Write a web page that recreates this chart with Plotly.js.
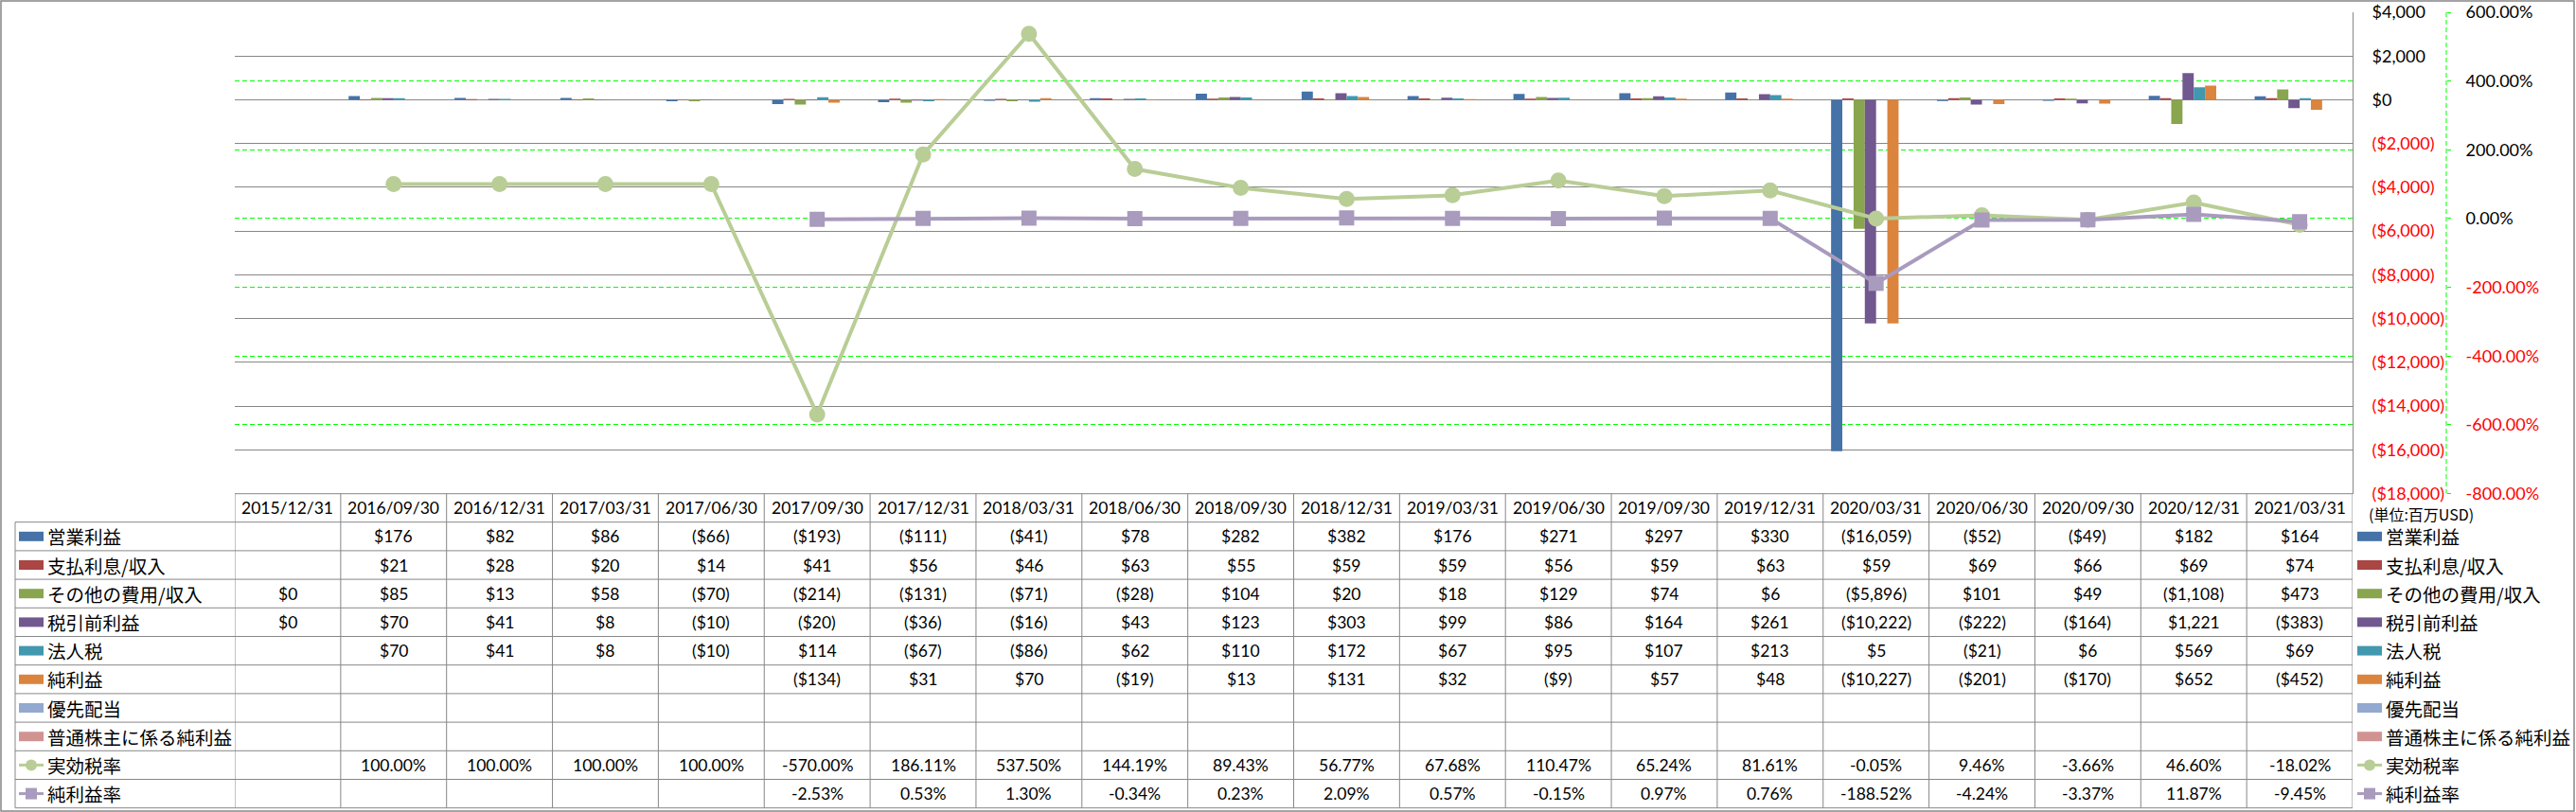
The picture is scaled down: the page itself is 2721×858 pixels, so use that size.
<!DOCTYPE html>
<html>
<head>
<meta charset="utf-8">
<script src="https://cdn.plot.ly/plotly-3.0.1.min.js"></script>
<style>html,body{margin:0;padding:0;background:#fff;}#chart{width:2721px;height:858px;}</style>
</head>
<body>
<div id="chart"></div>
<script>
// ---------------- DATA ----------------
const categories = ["2015/12/31","2016/09/30","2016/12/31","2017/03/31","2017/06/30","2017/09/30","2017/12/31","2018/03/31","2018/06/30","2018/09/30","2018/12/31","2019/03/31","2019/06/30","2019/09/30","2019/12/31","2020/03/31","2020/06/30","2020/09/30","2020/12/31","2021/03/31"];
const operatingIncome = [null,176,82,86,-66,-193,-111,-41,78,282,382,176,271,297,330,-16059,-52,-49,182,164];
const interestExpense = [null,21,28,20,14,41,56,46,63,55,59,59,56,59,63,59,69,66,69,74];
const otherExpense = [0,85,13,58,-70,-214,-131,-71,-28,104,20,18,129,74,6,-5896,101,49,-1108,473];
const preTaxIncome = [0,70,41,8,-10,-20,-36,-16,43,123,303,99,86,164,261,-10222,-222,-164,1221,-383];
const incomeTax = [null,70,41,8,-10,114,-67,-86,62,110,172,67,95,107,213,5,-21,6,569,69];
const netIncome = [null,null,null,null,null,-134,31,70,-19,13,131,32,-9,57,48,-10227,-201,-170,652,-452];
const preferredDividends = [null,null,null,null,null,null,null,null,null,null,null,null,null,null,null,null,null,null,null,null];
const netIncomeCommon = [null,null,null,null,null,null,null,null,null,null,null,null,null,null,null,null,null,null,null,null];
const effectiveTaxRate = [null,100.00,100.00,100.00,100.00,-570.00,186.11,537.50,144.19,89.43,56.77,67.68,110.47,65.24,81.61,-0.05,9.46,-3.66,46.60,-18.02];
const netMargin = [null,null,null,null,null,-2.53,0.53,1.30,-0.34,0.23,2.09,0.57,-0.15,0.97,0.76,-188.52,-4.24,-3.37,11.87,-9.45];

const seriesNames = ["営業利益","支払利息/収入","その他の費用/収入","税引前利益","法人税","純利益","優先配当","普通株主に係る純利益","実効税率","純利益率"];
const primaryTicks = [4000,2000,0,-2000,-4000,-6000,-8000,-10000,-12000,-14000,-16000,-18000];
const secondaryTicks = [600,400,200,0,-200,-400,-600,-800];
const unitLabel = "(単位:百万USD)";

// ---------------- STYLE ----------------
const W = 2721, H = 858;
const barColors = ["#4572A7","#AA4643","#89A54E","#71588F","#4198AF","#DB843D","#93A9CF","#D19392"];
const taxColor = "#B9CD96", marginColor = "#A99BBD";
const gridGray = "#878787";
const green = "#00FF00";
const latin = "Lato, 'Noto Sans CJK JP', sans-serif";
const cjk = "'Noto Sans CJK JP', Lato, sans-serif";

const plotL = 248, plotR = 2485, plotT = 13, plotB = 521.5;
const secAxisX = 2584;
const tableTop = 521.7, headerB = 551.7, rowH = 30.2;
const px = x => x / W;
const py = y => 1 - y / H;

const barSeries = [operatingIncome, interestExpense, otherExpense, preTaxIncome, incomeTax, netIncome, preferredDividends, netIncomeCommon];
const nSlots = barSeries.length;
const groupW = 0.85, slotW = groupW / nSlots;

const traces = [];
barSeries.forEach((s, i) => {
  traces.push({
    type: "bar", name: seriesNames[i], x: categories, y: s,
    width: slotW, offset: -groupW / 2 + i * slotW,
    marker: {color: barColors[i], line: {width: 0}},
    yaxis: "y", xaxis: "x", hoverinfo: "skip"
  });
});
traces.push({
  type: "scatter", mode: "lines+markers", name: seriesNames[8], x: categories, y: effectiveTaxRate,
  line: {color: taxColor, width: 4}, marker: {symbol: "circle", size: 17, color: taxColor},
  yaxis: "y2", xaxis: "x", hoverinfo: "skip"
});
traces.push({
  type: "scatter", mode: "lines+markers", name: seriesNames[9], x: categories, y: netMargin,
  line: {color: marginColor, width: 4}, marker: {symbol: "square", size: 16, color: marginColor},
  yaxis: "y2", xaxis: "x", hoverinfo: "skip"
});

function fmtMoney(v) {
  if (v === null || v === undefined) return "";
  const s = "$" + Math.abs(v).toLocaleString("en-US");
  return v < 0 ? "(" + s + ")" : s;
}
function fmtPct(v) {
  if (v === null || v === undefined) return "";
  return v.toFixed(2) + "%";
}

const primaryText = primaryTicks.map(v => v < 0 ? '<span style="color:#FF0000">' + fmtMoney(v) + '</span>' : fmtMoney(v));
const secondaryText = secondaryTicks.map(v => v < 0 ? '<span style="color:#FF0000">' + v.toFixed(2) + '%</span>' : v.toFixed(2) + '%');

// ---------------- TABLE ----------------
const shapes = [];
const annotations = [];
const rowsData = [operatingIncome, interestExpense, otherExpense, preTaxIncome, incomeTax, netIncome, preferredDividends, netIncomeCommon, effectiveTaxRate, netMargin];
const nRows = rowsData.length;
const tableBottom = headerB + nRows * rowH;
const lineStyle = {color: gridGray, width: 1};

// header top line (columns only)
shapes.push({type: "line", xref: "paper", yref: "paper", x0: px(plotL), x1: px(plotR), y0: py(tableTop), y1: py(tableTop), line: lineStyle, layer: "above"});
// row lines
for (let r = 0; r <= nRows; r++) {
  const y = headerB + r * rowH;
  shapes.push({type: "line", xref: "paper", yref: "paper", x0: px(16), x1: px(plotR), y0: py(y), y1: py(y), line: lineStyle, layer: "above"});
}
// left label border
shapes.push({type: "line", xref: "paper", yref: "paper", x0: px(16), x1: px(16), y0: py(headerB), y1: py(tableBottom), line: lineStyle});
// column separators via category axis
for (let i = 0; i <= categories.length; i++) {
  shapes.push({type: "line", xref: "x", yref: "paper", x0: i - 0.5, x1: i - 0.5, y0: py(tableTop), y1: py(tableBottom), line: lineStyle});
}
// secondary axis dashed line
shapes.push({type: "line", xref: "paper", yref: "paper", x0: px(secAxisX), x1: px(secAxisX), y0: py(plotT), y1: py(plotB), line: {color: green, width: 1, dash: "5px,3px"}});
// outer chart border
shapes.push({type: "rect", xref: "paper", yref: "paper", x0: px(1), x1: px(W - 2), y0: py(1), y1: py(H - 1), line: {color: gridGray, width: 1.5}, fillcolor: "rgba(0,0,0,0)"});

// header texts
categories.forEach((c, i) => {
  annotations.push({xref: "x", yref: "paper", x: c, y: py((tableTop + headerB) / 2), text: c, showarrow: false,
    xanchor: "center", yanchor: "middle", font: {family: latin, size: 17.5, color: "#000"}});
});

function legendKey(x0, yc, idx) {
  if (idx < 8) {
    shapes.push({type: "rect", xref: "paper", yref: "paper", x0: px(x0), x1: px(x0 + 26), y0: py(yc - 5), y1: py(yc + 5),
      fillcolor: barColors[idx], line: {width: 0}});
  } else {
    const col = idx === 8 ? taxColor : marginColor;
    shapes.push({type: "line", xref: "paper", yref: "paper", x0: px(x0), x1: px(x0 + 26), y0: py(yc), y1: py(yc), line: {color: col, width: 3}});
    shapes.push({type: idx === 8 ? "circle" : "rect", xref: "paper", yref: "paper", x0: px(x0 + 7), x1: px(x0 + 19), y0: py(yc - 6), y1: py(yc + 6),
      fillcolor: col, line: {width: 0}});
  }
}

rowsData.forEach((row, r) => {
  const yc = headerB + r * rowH + rowH / 2;
  const fmt = r >= 8 ? fmtPct : fmtMoney;
  row.forEach((v, i) => {
    const t = fmt(v);
    if (t !== "") {
      annotations.push({xref: "x", yref: "paper", x: categories[i], y: py(yc), text: t, showarrow: false,
        xanchor: "center", yanchor: "middle", font: {family: latin, size: 17.5, color: "#000"}});
    }
  });
  // left label
  legendKey(20, yc, r);
  annotations.push({xref: "paper", yref: "paper", x: px(48), y: py(yc), text: seriesNames[r], showarrow: false,
    xanchor: "left", yanchor: "middle", font: {family: cjk, size: 19.5, color: "#000"}});
  // right legend
  legendKey(2490, yc, r);
  annotations.push({xref: "paper", yref: "paper", x: px(2518), y: py(yc), text: seriesNames[r], showarrow: false,
    xanchor: "left", yanchor: "middle", font: {family: cjk, size: 19.5, color: "#000"}});
});

annotations.push({xref: "paper", yref: "paper", x: px(2500), y: py(543), text: unitLabel, showarrow: false,
  xanchor: "left", yanchor: "middle", font: {family: cjk, size: 16, color: "#000"}});

const layout = {
  width: W, height: H, autosize: false,
  margin: {l: 0, r: 0, t: 0, b: 0, pad: 0},
  paper_bgcolor: "#fff", plot_bgcolor: "#fff",
  showlegend: false, barmode: "overlay",
  xaxis: {type: "category", domain: [px(plotL), px(plotR)], range: [-0.5, categories.length - 0.5],
    showgrid: false, zeroline: false, showticklabels: false, showline: false, ticks: "", fixedrange: true},
  yaxis: {domain: [py(plotB), py(plotT)], range: [-18000, 4000], side: "right", anchor: "x",
    tickvals: primaryTicks, ticktext: primaryText, showgrid: true, gridcolor: gridGray, gridwidth: 1,
    zeroline: false, showline: true, linecolor: gridGray, linewidth: 1, ticks: "",
    ticklabelstandoff: 16, tickfont: {family: latin, size: 18, color: "#000"}, fixedrange: true},
  yaxis2: {overlaying: "y", side: "right", anchor: "free", position: px(secAxisX), range: [-800, 600],
    tickvals: secondaryTicks, ticktext: secondaryText, showgrid: true, gridcolor: green, gridwidth: 1, griddash: "5px,3px",
    zeroline: false, showline: false, ticks: "outside", ticklen: 4, tickcolor: green, tickwidth: 1,
    ticklabelstandoff: 12, tickfont: {family: latin, size: 18, color: "#000"}, fixedrange: true},
  shapes: shapes,
  annotations: annotations
};

Plotly.newPlot("chart", traces, layout, {staticPlot: true, displayModeBar: false});
</script>
</body>
</html>
